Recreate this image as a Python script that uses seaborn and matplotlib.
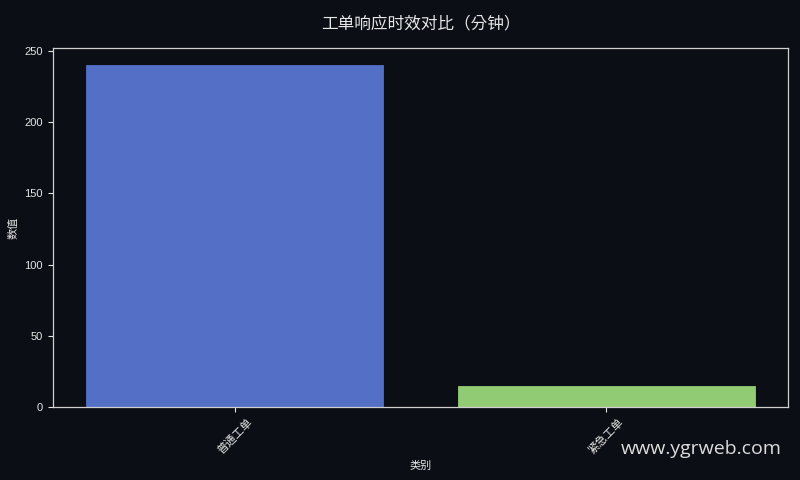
import matplotlib
matplotlib.use("Agg")
import matplotlib.pyplot as plt
import seaborn as sns
import pandas as pd

categories = ["普通工单", "紧急工单"]
values = [240, 15]
colors = ["#5470c6", "#91cc75"]

bg = "#0b0e14"
fg = "#e6e6e6"

sns.set_theme(style="dark")
plt.rcParams['font.family'] = ['Liberation Sans', 'Noto Sans CJK SC', 'DejaVu Sans']
plt.rcParams['axes.unicode_minus'] = False

df = pd.DataFrame({"类别": categories, "数值": values})

fig = plt.figure(figsize=(8, 4.8), dpi=100, facecolor=bg)
ax = fig.add_axes([0.066, 0.152, 0.919, 0.748])
ax.set_facecolor(bg)
sns.barplot(data=df, x="类别", y="数值", hue="类别", palette=colors, legend=False,
            ax=ax, linewidth=0.6, saturation=1)
for p, c in zip(ax.patches, colors):
    p.set_edgecolor(c)
ax.set_ylim(0, 252)
ax.set_xlim(-0.49, 1.49)
ax.set_yticks([0, 50, 100, 150, 200, 250])
ax.tick_params(colors=fg, labelsize=8, length=3.5, width=0.8, pad=3.5, direction="out", bottom=True, left=True)
for lab in ax.get_xticklabels():
    lab.set_rotation(45)
ax.set_xlabel("类别", color=fg, fontsize=8)
ax.set_ylabel("数值", color=fg, fontsize=8)
for s in ax.spines.values():
    s.set_color("#cfcfcf")
    s.set_linewidth(0.9)
    s.set_visible(True)
ax.grid(False)
ax.set_title("工单响应时效对比（分钟）", color=fg, fontsize=12, pad=14,
             family=["Noto Sans CJK KR", "DejaVu Sans"])
fig.text(0.977, 0.065, "www.ygrweb.com", color="#dcdcdc", fontsize=14, ha="right", va="center",
         family=["Open Sans", "DejaVu Sans"])
fig.savefig("out.png", dpi=100, facecolor=bg)
